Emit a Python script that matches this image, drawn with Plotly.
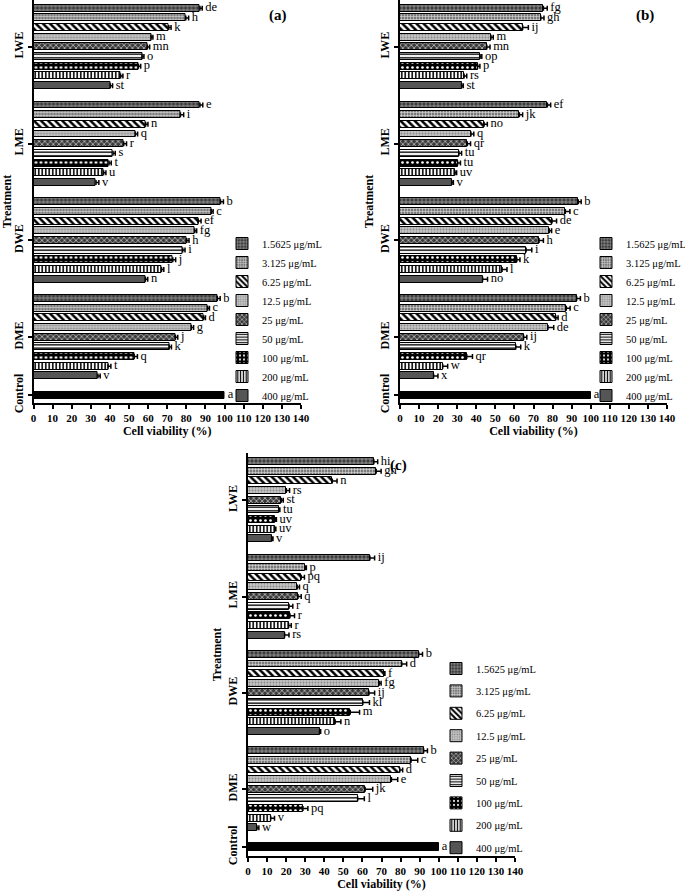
import plotly.graph_objects as go

# ---------------- data ----------------
conc_labels = ["1.5625 μg/mL", "3.125 μg/mL", "6.25 μg/mL", "12.5 μg/mL", "25 μg/mL",
               "50 μg/mL", "100 μg/mL", "200 μg/mL", "400 μg/mL"]
treatments = ["LWE", "LME", "DWE", "DME"]
control_label = "Control"
x_tick_vals = [0, 10, 20, 30, 40, 50, 60, 70, 80, 90, 100, 110, 120, 130, 140]
panel_names = ["(a)", "(b)", "(c)"]
control_value = 100
control_sig = "a"

# Panel (a)
a_LWE = [87.1, 79.7, 70.8, 61.5, 59.6, 56.8, 54.9, 45.6, 40.2]
a_LWE_err = [1.2, 1.5, 1.2, 1.0, 1.2, 1.0, 1.2, 1.2, 1.2]
a_LWE_sig = ["de", "h", "k", "m", "mn", "o", "p", "r", "st"]
a_LME = [87.1, 76.9, 58.7, 53.3, 47.2, 41.6, 39.5, 36.7, 32.7]
a_LME_err = [1.5, 1.7, 1.2, 1.2, 1.5, 1.2, 1.2, 1.2, 1.5]
a_LME_sig = ["e", "i", "n", "q", "r", "s", "t", "u", "v"]
a_DWE = [97.9, 93.0, 86.2, 84.4, 80.2, 78.1, 72.9, 67.0, 58.6]
a_DWE_err = [1.5, 1.0, 1.5, 1.0, 1.2, 1.2, 1.5, 1.2, 1.2]
a_DWE_sig = ["b", "c", "ef", "fg", "h", "i", "j", "l", "n"]
a_DME = [96.2, 91.1, 89.0, 82.6, 74.3, 71.0, 52.7, 39.0, 33.7]
a_DME_err = [1.5, 1.0, 1.0, 1.2, 1.2, 1.2, 1.7, 1.5, 1.2]
a_DME_sig = ["b", "c", "d", "g", "j", "k", "q", "t", "v"]

# Panel (b)
b_LWE = [75.2, 73.8, 64.3, 47.7, 45.5, 42.0, 40.7, 33.6, 32.3]
b_LWE_err = [2.0, 1.7, 3.0, 1.2, 1.7, 0.9, 1.2, 1.4, 0.9]
b_LWE_sig = ["fg", "gh", "ij", "m", "mn", "op", "p", "rs", "st"]
b_LME = [77.3, 62.6, 44.1, 37.2, 35.3, 30.9, 30.2, 28.8, 27.1]
b_LME_err = [1.7, 1.7, 1.7, 1.5, 1.7, 1.4, 1.5, 0.9, 0.9]
b_LME_sig = ["ef", "jk", "no", "q", "qr", "tu", "tu", "uv", "v"]
b_DWE = [93.5, 86.7, 79.7, 78.3, 72.9, 66.1, 61.2, 53.5, 43.3]
b_DWE_err = [1.5, 2.4, 2.4, 1.2, 2.3, 3.0, 1.7, 2.6, 2.6]
b_DWE_sig = ["b", "c", "de", "e", "h", "i", "k", "l", "no"]
b_DME = [92.6, 87.2, 81.7, 77.6, 64.8, 60.7, 35.0, 22.4, 17.6]
b_DME_err = [2.0, 2.0, 1.2, 3.0, 1.7, 2.6, 3.0, 2.6, 2.3]
b_DME_sig = ["b", "c", "d", "de", "ij", "k", "qr", "w", "x"]

# Panel (c)
c_LWE = [66.0, 67.2, 44.2, 20.1, 17.5, 16.1, 14.3, 14.0, 12.4]
c_LWE_err = [2.0, 2.6, 2.5, 1.7, 1.0, 0.6, 0.6, 0.6, 0.7]
c_LWE_sig = ["hi", "gh", "n", "rs", "st", "tu", "uv", "uv", "v"]
c_LME = [63.9, 30.0, 27.9, 25.8, 26.2, 21.5, 22.0, 21.3, 19.2]
c_LME_err = [2.5, 0.6, 1.7, 1.2, 1.7, 2.0, 2.4, 1.4, 2.3]
c_LME_sig = ["ij", "p", "pq", "q", "q", "r", "r", "r", "rs"]
c_DWE = [89.5, 80.6, 71.2, 68.8, 63.4, 60.2, 53.6, 45.7, 37.5]
c_DWE_err = [2.0, 2.6, 0.6, 1.0, 3.0, 3.5, 4.9, 3.0, 0.6]
c_DWE_sig = ["b", "d", "f", "fg", "ij", "kl", "m", "n", "o"]
c_DME = [92.1, 85.5, 79.6, 75.2, 61.4, 57.5, 28.8, 11.9, 4.7]
c_DME_err = [2.0, 3.5, 1.5, 3.3, 4.0, 3.5, 2.6, 2.0, 1.0]
c_DME_sig = ["b", "c", "d", "e", "jk", "l", "pq", "v", "w"]

panel_vals = [[a_LWE, a_LME, a_DWE, a_DME], [b_LWE, b_LME, b_DWE, b_DME], [c_LWE, c_LME, c_DWE, c_DME]]
panel_errs = [[a_LWE_err, a_LME_err, a_DWE_err, a_DME_err], [b_LWE_err, b_LME_err, b_DWE_err, b_DME_err],
              [c_LWE_err, c_LME_err, c_DWE_err, c_DME_err]]
panel_sigs = [[a_LWE_sig, a_LME_sig, a_DWE_sig, a_DME_sig], [b_LWE_sig, b_LME_sig, b_DWE_sig, b_DME_sig],
              [c_LWE_sig, c_LME_sig, c_DWE_sig, c_DME_sig]]

# ---------------- styles ----------------
W, H = 685, 891
FONT = "Liberation Serif"
patterns = [
    dict(shape="+", bgcolor="#3c3c3c", fgcolor="#b0b0b0", size=4, solidity=0.3),
    dict(shape="+", bgcolor="#7a7a7a", fgcolor="#dcdcdc", size=3, solidity=0.35),
    dict(shape="\\", bgcolor="#ffffff", fgcolor="#000000", size=5, solidity=0.5),
    dict(shape=".", bgcolor="#c4c4c4", fgcolor="#8a8a8a", size=3, solidity=0.3),
    dict(shape="x", bgcolor="#3a3a3a", fgcolor="#dddddd", size=4, solidity=0.3),
    dict(shape="-", bgcolor="#ffffff", fgcolor="#000000", size=3.5, solidity=0.4),
    dict(shape=".", bgcolor="#000000", fgcolor="#ffffff", size=5, solidity=0.22),
    dict(shape="|", bgcolor="#ffffff", fgcolor="#000000", size=3.5, solidity=0.45),
    None,
]
solid_400 = "#555555"

# layout geometry in pixels
x_dom_px = [(33.5, 301), (400, 667), (248, 515)]
y_dom_px = [(0, 403), (0, 403), (453, 856)]
y_ranges = [[40.8, -0.85], [40.8, -0.85], [40.93, -0.9]]
legend_pos_px = [(222, 229), (586, 229), (436, 654)]
legend_gaps = [0, 0, 3.4]
label_pos_px = [(278, 15), (645, 15), (398, 466)]

n_c = len(conc_labels)
slot = n_c + 1
NBSP = "\u00a0"

fig = go.Figure()
for p in range(3):
    ax = "" if p == 0 else str(p + 1)
    leg = "legend" if p == 0 else "legend" + str(p + 1)
    for c in range(n_c):
        xs = [panel_vals[p][g][c] for g in range(len(treatments))]
        es = [panel_errs[p][g][c] for g in range(len(treatments))]
        ys = [g * slot + c for g in range(len(treatments))]
        marker = dict(line=dict(color="black", width=1))
        if patterns[c] is None:
            marker["color"] = solid_400
        else:
            marker["color"] = patterns[c]["bgcolor"]
            marker["pattern"] = dict(patterns[c], fillmode="replace")
        fig.add_trace(go.Bar(
            x=xs, y=ys, orientation="h", width=0.72, name=conc_labels[c],
            legendgroup="p%d_c%d" % (p, c),
            marker=marker, xaxis="x" + ax, yaxis="y" + ax, legend=leg,
            error_x=dict(type="data", symmetric=False, array=es, arrayminus=[0] * len(es),
                         color="black", thickness=1.5, width=2.5),
        ))
    # control
    ctrl_y = len(treatments) * slot
    fig.add_trace(go.Bar(
        x=[control_value], y=[ctrl_y], orientation="h", width=0.75, showlegend=False,
        marker=dict(color="black", line=dict(color="black", width=1)),
        xaxis="x" + ax, yaxis="y" + ax,
    ))
    # significance letters
    tx, ty, tt = [], [], []
    for g in range(len(treatments)):
        for c in range(n_c):
            tx.append(panel_vals[p][g][c] + panel_errs[p][g][c])
            ty.append(g * slot + c)
            tt.append(NBSP + panel_sigs[p][g][c])
    tx.append(control_value)
    ty.append(ctrl_y)
    tt.append(NBSP + control_sig)
    fig.add_trace(go.Scatter(
        x=tx, y=ty, text=tt, mode="text", textposition="middle right", showlegend=False,
        textfont=dict(family=FONT, size=12.5, color="black"), xaxis="x" + ax, yaxis="y" + ax,
        cliponaxis=False, hoverinfo="skip",
    ))

    tickvals = [g * slot + (n_c - 1) / 2 for g in range(len(treatments))] + [ctrl_y]
    x0, x1 = x_dom_px[p]
    y0, y1 = y_dom_px[p]
    fig.update_layout(**{
        "xaxis" + ax: dict(
            domain=[x0 / W, x1 / W], anchor="y" + ax, range=[0, 140], tickvals=x_tick_vals,
            tickangle=0,
            ticks="outside", ticklen=4, tickwidth=1.5, tickcolor="black", showline=True,
            linecolor="black", linewidth=1.5, showgrid=False, zeroline=False,
            tickfont=dict(family=FONT, size=11, color="black", weight="bold"),
            title=dict(text="Cell viability (%)", font=dict(family=FONT, size=12, color="black", weight="bold"),
                       standoff=3),
            automargin=False, fixedrange=True,
        ),
        "yaxis" + ax: dict(
            domain=[1 - y1 / H, 1 - y0 / H], anchor="x" + ax, range=y_ranges[p],
            tickvals=tickvals, ticktext=treatments + [control_label], tickangle=-90,
            ticks="outside", ticklen=4, tickwidth=1.5, tickcolor="black", showline=True,
            linecolor="black", linewidth=1.5, showgrid=False, zeroline=False,
            tickfont=dict(family=FONT, size=12, color="black", weight="bold"),
            title=dict(text="Treatment", font=dict(family=FONT, size=12, color="black", weight="bold"),
                       standoff=2),
            automargin=False, fixedrange=True,
        ),
        leg: dict(
            x=legend_pos_px[p][0] / W, y=1 - legend_pos_px[p][1] / H, xanchor="left", yanchor="top",
            bgcolor="rgba(0,0,0,0)", borderwidth=0, itemwidth=30, tracegroupgap=legend_gaps[p],
            font=dict(family=FONT, size=10.5, color="black"), traceorder="grouped",
        ),
    })
    fig.add_annotation(
        x=label_pos_px[p][0] / W, y=1 - label_pos_px[p][1] / H, xref="paper", yref="paper",
        xanchor="center", yanchor="middle",
        text=panel_names[p], showarrow=False, font=dict(family=FONT, size=15, color="black", weight="bold"),
    )

fig.update_layout(
    width=W, height=H, margin=dict(l=0, r=0, t=0, b=0, autoexpand=False),
    paper_bgcolor="white", plot_bgcolor="white", bargap=0, barmode="overlay",
    font=dict(family=FONT, color="black"),
)
fig.write_html("out.html")
